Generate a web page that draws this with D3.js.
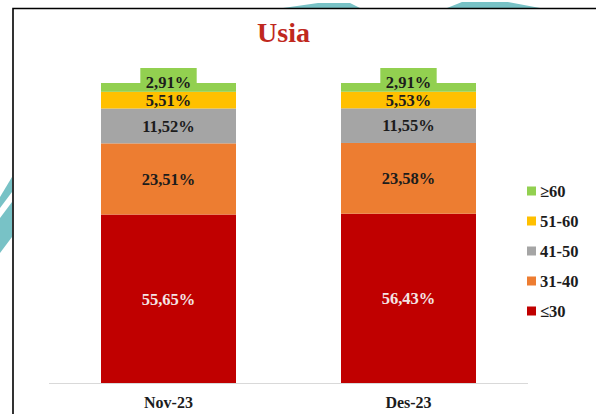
<!DOCTYPE html>
<html>
<head>
<meta charset="utf-8">
<script src="https://cdn.jsdelivr.net/npm/d3@7"></script>
<style>
  body { margin: 0; background: #fff; }
  svg { display: block; }
  text { font-family: "Liberation Serif", "DejaVu Serif", serif; font-weight: bold; }
</style>
</head>
<body>
<svg id="chart" width="596" height="414"></svg>
<script>
// data (percent of respondents per age group)
const months = ["Nov-23", "Des-23"];
const ageGroups = ["≤30", "31-40", "41-50", "51-60", "≥60"];
const le30 = [55.65, 56.43];
const age31to40 = [23.51, 23.58];
const age41to50 = [11.52, 11.55];
const age51to60 = [5.51, 5.53];
const ge60 = [2.91, 2.91];
const groupColors = ["#c00000", "#ed7d31", "#a5a5a5", "#ffc000", "#92d050"];

const rows = months.map((m, i) => ({
    month: m,
    "≤30": le30[i],
    "31-40": age31to40[i],
    "41-50": age41to50[i],
    "51-60": age51to60[i],
    "≥60": ge60[i]
}));

const svg = d3.select('#chart');

// decoration in the background (logo watermark bits outside the frame)
const teal = '#78c2c6';
svg.append('polygon').attr('points', '283,8 360,8 350,3 318,3').style('fill', teal);
svg.append('polygon').attr('points', '447,8 540,8 508,2 462,2').style('fill', teal);
svg.append('polygon').attr('points', '0,197 12,177 12,192 0,208').style('fill', teal);
svg.append('polygon').attr('points', '0,218 12,202 12,237 0,253').style('fill', teal);

// frame
svg.append('path')
    .attr('d', 'M13,414V8.5H596')
    .style('fill', 'none')
    .style('stroke', '#000')
    .style('stroke-width', 1.6);

const baseY = 383;
const xScale = d3.scaleBand()
    .domain(months)
    .range([49, 528])
    .paddingInner(0.4375)
    .paddingOuter(0.2167);

// 100% stacked
const yScale = d3.scaleLinear()
    .domain([0, 1])
    .range([baseY, baseY - 300]);

const colorScale = d3.scaleOrdinal().domain(ageGroups).range(groupColors);

const stacked = d3.stack().keys(ageGroups).offset(d3.stackOffsetExpand)(rows);

// title
svg.append('text')
    .attr('x', 283.5)
    .attr('y', 42)
    .style('text-anchor', 'middle')
    .style('font-size', '28px')
    .style('fill', '#c0281e')
    .text('Usia');

// baseline axis
svg.append('line')
    .attr('x1', 49).attr('x2', 528)
    .attr('y1', baseY + 0.5).attr('y2', baseY + 0.5)
    .style('stroke', '#d9d9d9')
    .style('stroke-width', 1);

const layers = svg.append('g').selectAll('g')
    .data(stacked)
    .join('g')
    .style('fill', d => colorScale(d.key));

layers.selectAll('rect')
    .data(d => d)
    .join('rect')
    .attr('x', d => xScale(d.data.month))
    .attr('width', xScale.bandwidth())
    .attr('y', d => yScale(d[1]))
    .attr('height', d => yScale(d[0]) - yScale(d[1]));

const fmt = v => v.toFixed(2).replace('.', ',') + '%';

// data labels
stacked.forEach((layer, li) => {
    const isTop = li === stacked.length - 1;
    layer.forEach(d => {
        const cx = xScale(d.data.month) + xScale.bandwidth() / 2;
        let cy = (yScale(d[0]) + yScale(d[1])) / 2;
        const g = svg.append('g');
        if (isTop) cy = yScale(d[1]) - 1;
        const t = g.append('text')
            .attr('x', cx)
            .attr('y', cy)
            .attr('dy', '0.35em')
            .style('text-anchor', 'middle')
            .style('font-size', '16.5px')
            .style('fill', li === 0 ? '#f4e4e4' : '#1c1c1c')
            .text(fmt(d.data[layer.key]));
        if (isTop) {
            const w = t.node().getComputedTextLength() + 11;
            g.insert('rect', 'text')
                .attr('x', cx - w / 2)
                .attr('y', cy - 14)
                .attr('width', w)
                .attr('height', 22)
                .style('fill', colorScale(layer.key));
        }
    });
});

// category labels
svg.append('g').selectAll('text')
    .data(months)
    .join('text')
    .attr('x', d => xScale(d) + xScale.bandwidth() / 2)
    .attr('y', 408)
    .style('text-anchor', 'middle')
    .style('font-size', '16px')
    .style('fill', '#1c1c1c')
    .text(d => d);

// legend, top group first
const legend = svg.append('g').selectAll('g')
    .data(ageGroups.slice().reverse())
    .join('g')
    .attr('transform', (d, i) => `translate(527,${191 + i * 30})`);

legend.append('rect')
    .attr('x', 0).attr('y', -4.5)
    .attr('width', 9).attr('height', 9)
    .style('fill', d => colorScale(d));

legend.append('text')
    .attr('x', 13)
    .attr('y', 0)
    .attr('dy', '0.35em')
    .style('font-size', '16.5px')
    .style('fill', '#1c1c1c')
    .text(d => d);
</script>
</body>
</html>
